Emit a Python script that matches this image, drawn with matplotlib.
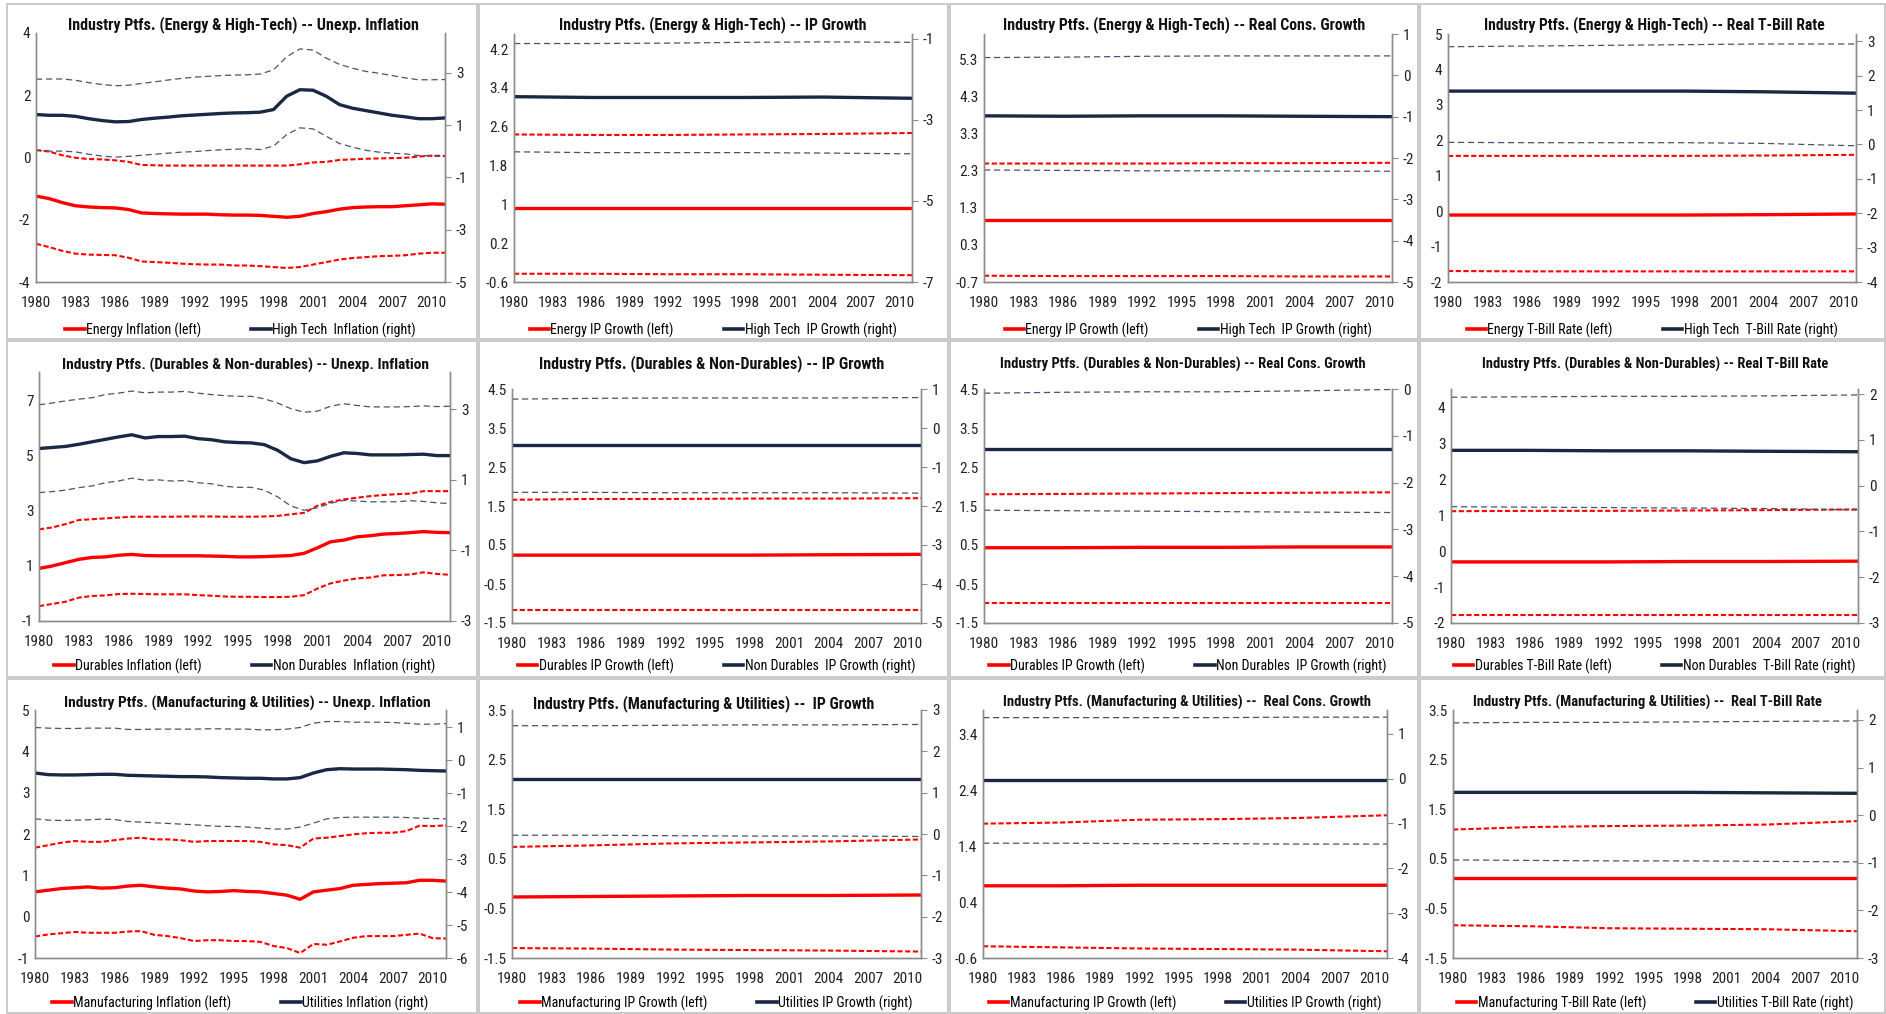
import numpy as np
import matplotlib.pyplot as plt
from matplotlib import font_manager
from matplotlib.lines import Line2D
from matplotlib.patches import Rectangle
from matplotlib.ticker import FuncFormatter

# pick a narrow sans face if there is one (the original is Calibri)
installed = {f.name for f in font_manager.fontManager.ttflist}
fam = 'DejaVu Sans'
for cand in ['Liberation Sans Narrow', 'Roboto Condensed', 'DejaVu Sans Condensed', 'Roboto']:
    if cand in installed:
        fam = cand
        break
plt.rcParams['font.family'] = [fam, 'DejaVu Sans']

W, H = 1886, 1014
RED = '#FF0000'
NAVY = '#1A2844'
NAVY_D = '#46556F'
GREY = '#8C8C8C'

years = np.arange(1980, 2012)
years_s = [1980, 1986, 1992, 1998, 2004, 2011]

# ---- Unexpected inflation (yearly readings) ----
energy_inf = [-1.24, -1.32, -1.45, -1.55, -1.59, -1.61, -1.62, -1.67, -1.78, -1.80,
              -1.81, -1.82, -1.82, -1.82, -1.84, -1.85, -1.85, -1.86, -1.89, -1.92,
              -1.89, -1.80, -1.74, -1.66, -1.61, -1.59, -1.58, -1.58, -1.55, -1.52, -1.49, -1.50]
energy_inf_hi = [0.24, 0.19, 0.07, -0.01, -0.05, -0.06, -0.09, -0.14, -0.24, -0.25,
                 -0.26, -0.26, -0.26, -0.26, -0.26, -0.26, -0.26, -0.26, -0.26, -0.26,
                 -0.22, -0.16, -0.14, -0.08, -0.06, -0.04, -0.03, -0.02, -0.01, 0.03, 0.06, 0.05]
energy_inf_lo = [-2.77, -2.88, -3.00, -3.09, -3.12, -3.13, -3.14, -3.22, -3.34, -3.36,
                 -3.38, -3.41, -3.43, -3.44, -3.44, -3.47, -3.47, -3.49, -3.52, -3.55,
                 -3.52, -3.44, -3.36, -3.28, -3.23, -3.20, -3.17, -3.16, -3.14, -3.09, -3.06, -3.06]
hitech_inf = [1.41, 1.38, 1.38, 1.34, 1.25, 1.18, 1.13, 1.14, 1.22, 1.27,
              1.31, 1.36, 1.39, 1.42, 1.45, 1.47, 1.48, 1.50, 1.60, 2.11,
              2.36, 2.34, 2.11, 1.79, 1.65, 1.56, 1.47, 1.38, 1.32, 1.25, 1.25, 1.28]
hitech_inf_hi = [2.76, 2.77, 2.77, 2.72, 2.63, 2.56, 2.51, 2.53, 2.60, 2.66,
                 2.73, 2.79, 2.84, 2.87, 2.90, 2.92, 2.93, 2.96, 3.12, 3.62,
                 3.92, 3.88, 3.57, 3.33, 3.18, 3.06, 2.99, 2.90, 2.81, 2.74, 2.74, 2.75]
hitech_inf_lo = [0.04, 0.01, 0.01, -0.02, -0.11, -0.18, -0.22, -0.19, -0.15, -0.11,
                 -0.07, -0.03, -0.01, 0.03, 0.06, 0.08, 0.10, 0.07, 0.20, 0.64,
                 0.90, 0.86, 0.58, 0.30, 0.16, 0.04, -0.03, -0.07, -0.10, -0.16, -0.17, -0.20]

dur_inf = [0.91, 1.00, 1.12, 1.24, 1.31, 1.33, 1.39, 1.42, 1.38, 1.37,
           1.37, 1.37, 1.37, 1.36, 1.35, 1.33, 1.33, 1.34, 1.36, 1.38,
           1.46, 1.66, 1.88, 1.94, 2.06, 2.10, 2.16, 2.18, 2.21, 2.25, 2.22, 2.21]
dur_inf_hi = [2.33, 2.40, 2.52, 2.67, 2.70, 2.73, 2.76, 2.79, 2.79, 2.79,
              2.79, 2.80, 2.80, 2.80, 2.79, 2.79, 2.79, 2.80, 2.82, 2.88,
              2.93, 3.19, 3.33, 3.42, 3.48, 3.54, 3.58, 3.61, 3.63, 3.72, 3.72, 3.72]
dur_inf_lo = [-0.46, -0.38, -0.30, -0.15, -0.09, -0.07, -0.02, -0.01, -0.02, -0.03,
              -0.03, -0.03, -0.06, -0.08, -0.11, -0.12, -0.12, -0.13, -0.13, -0.12,
              -0.06, 0.18, 0.37, 0.47, 0.55, 0.58, 0.66, 0.67, 0.69, 0.77, 0.71, 0.68]
nondur_inf = [1.89, 1.92, 1.95, 2.01, 2.08, 2.15, 2.22, 2.28, 2.19, 2.23,
              2.23, 2.24, 2.17, 2.14, 2.08, 2.06, 2.05, 2.00, 1.84, 1.60,
              1.49, 1.54, 1.67, 1.77, 1.75, 1.71, 1.71, 1.71, 1.72, 1.73, 1.69, 1.69]
nondur_inf_hi = [3.13, 3.18, 3.24, 3.29, 3.33, 3.42, 3.46, 3.52, 3.47, 3.49,
                 3.49, 3.51, 3.46, 3.42, 3.39, 3.37, 3.37, 3.30, 3.18, 3.02,
                 2.92, 2.95, 3.09, 3.16, 3.11, 3.07, 3.07, 3.07, 3.08, 3.10, 3.08, 3.09]
nondur_inf_lo = [0.64, 0.67, 0.71, 0.78, 0.83, 0.92, 0.97, 1.05, 0.99, 1.00,
                 0.97, 0.98, 0.92, 0.89, 0.82, 0.79, 0.79, 0.71, 0.52, 0.26,
                 0.14, 0.21, 0.34, 0.42, 0.40, 0.38, 0.38, 0.38, 0.41, 0.39, 0.35, 0.33]

manu_inf = [0.60, 0.64, 0.68, 0.70, 0.72, 0.69, 0.70, 0.74, 0.76, 0.72,
            0.69, 0.67, 0.62, 0.60, 0.61, 0.63, 0.61, 0.60, 0.56, 0.52,
            0.42, 0.60, 0.64, 0.68, 0.76, 0.78, 0.80, 0.81, 0.82, 0.88, 0.88, 0.86]
manu_inf_hi = [1.67, 1.73, 1.79, 1.83, 1.81, 1.81, 1.85, 1.89, 1.91, 1.87,
               1.87, 1.85, 1.81, 1.83, 1.83, 1.83, 1.83, 1.81, 1.75, 1.73,
               1.67, 1.89, 1.91, 1.95, 1.99, 2.02, 2.03, 2.03, 2.07, 2.20, 2.19, 2.21]
manu_inf_lo = [-0.48, -0.43, -0.40, -0.37, -0.39, -0.39, -0.39, -0.36, -0.35, -0.44,
               -0.47, -0.52, -0.59, -0.57, -0.57, -0.59, -0.59, -0.61, -0.71, -0.76,
               -0.88, -0.66, -0.68, -0.60, -0.51, -0.47, -0.47, -0.47, -0.44, -0.41, -0.52, -0.53]
util_inf = [-0.39, -0.44, -0.45, -0.45, -0.44, -0.43, -0.43, -0.46, -0.47, -0.48,
            -0.49, -0.50, -0.50, -0.51, -0.53, -0.54, -0.55, -0.55, -0.57, -0.57,
            -0.53, -0.39, -0.29, -0.26, -0.27, -0.27, -0.27, -0.28, -0.29, -0.31, -0.32, -0.33]
util_inf_hi = [0.99, 0.97, 0.96, 0.96, 0.97, 0.97, 0.97, 0.93, 0.93, 0.94,
               0.94, 0.94, 0.94, 0.95, 0.95, 0.94, 0.94, 0.92, 0.92, 0.94,
               0.99, 1.12, 1.17, 1.17, 1.15, 1.15, 1.15, 1.14, 1.12, 1.09, 1.09, 1.11]
util_inf_lo = [-1.78, -1.82, -1.83, -1.82, -1.81, -1.79, -1.80, -1.86, -1.88, -1.90,
               -1.92, -1.94, -1.96, -1.99, -2.01, -2.01, -2.03, -2.06, -2.09, -2.09,
               -2.03, -1.91, -1.78, -1.74, -1.73, -1.73, -1.73, -1.73, -1.74, -1.76, -1.77, -1.78]

# ---- IP growth / real consumption growth / real T-bill (readings at years_s) ----
energy_ip = [0.92, 0.92, 0.92, 0.92, 0.92, 0.92]
energy_ip_hi = [2.44, 2.43, 2.43, 2.44, 2.45, 2.47]
energy_ip_lo = [-0.43, -0.43, -0.44, -0.44, -0.45, -0.46]
hitech_ip = [-2.43, -2.45, -2.45, -2.45, -2.44, -2.47]
hitech_ip_hi = [-1.12, -1.12, -1.11, -1.09, -1.08, -1.09]
hitech_ip_lo = [-3.79, -3.81, -3.81, -3.81, -3.82, -3.84]

energy_rc = [0.97, 0.97, 0.97, 0.97, 0.97, 0.97]
energy_rc_hi = [2.50, 2.50, 2.50, 2.51, 2.51, 2.52]
energy_rc_lo = [-0.53, -0.54, -0.54, -0.54, -0.55, -0.55]
hitech_rc = [-0.98, -0.99, -0.98, -0.98, -0.99, -1.00]
hitech_rc_hi = [0.43, 0.44, 0.46, 0.47, 0.47, 0.47]
hitech_rc_lo = [-2.29, -2.30, -2.31, -2.31, -2.32, -2.32]

energy_tb = [-0.11, -0.11, -0.11, -0.11, -0.10, -0.08]
energy_tb_hi = [1.56, 1.56, 1.56, 1.56, 1.57, 1.59]
energy_tb_lo = [-1.69, -1.70, -1.70, -1.70, -1.70, -1.70]
hitech_tb = [1.55, 1.55, 1.55, 1.55, 1.53, 1.49]
hitech_tb_hi = [2.84, 2.86, 2.88, 2.90, 2.92, 2.92]
hitech_tb_lo = [0.06, 0.05, 0.05, 0.05, 0.03, -0.04]

dur_ip = [0.24, 0.24, 0.24, 0.24, 0.25, 0.26]
dur_ip_hi = [1.66, 1.68, 1.68, 1.69, 1.69, 1.70]
dur_ip_lo = [-1.16, -1.16, -1.16, -1.16, -1.16, -1.16]
nondur_ip = [-0.43, -0.43, -0.43, -0.43, -0.43, -0.43]
nondur_ip_hi = [0.74, 0.76, 0.77, 0.77, 0.77, 0.78]
nondur_ip_lo = [-1.65, -1.65, -1.66, -1.66, -1.66, -1.67]

dur_rc = [0.43, 0.43, 0.44, 0.44, 0.45, 0.45]
dur_rc_hi = [1.80, 1.81, 1.82, 1.83, 1.84, 1.85]
dur_rc_lo = [-0.99, -0.99, -0.99, -0.99, -0.99, -0.99]
nondur_rc = [-1.29, -1.29, -1.29, -1.29, -1.29, -1.29]
nondur_rc_hi = [-0.09, -0.07, -0.06, -0.06, -0.04, -0.01]
nondur_rc_lo = [-2.59, -2.60, -2.61, -2.62, -2.63, -2.64]

dur_tb = [-0.30, -0.30, -0.30, -0.29, -0.29, -0.28]
dur_tb_hi = [1.11, 1.12, 1.12, 1.13, 1.14, 1.16]
dur_tb_lo = [-1.79, -1.79, -1.79, -1.79, -1.79, -1.79]
nondur_tb = [0.77, 0.77, 0.76, 0.76, 0.75, 0.74]
nondur_tb_hi = [1.93, 1.94, 1.95, 1.95, 1.96, 1.98]
nondur_tb_lo = [-0.46, -0.47, -0.48, -0.49, -0.50, -0.53]

manu_ip = [-0.27, -0.26, -0.25, -0.24, -0.24, -0.23]
manu_ip_hi = [0.74, 0.77, 0.81, 0.83, 0.85, 0.89]
manu_ip_lo = [-1.30, -1.31, -1.33, -1.34, -1.35, -1.37]
util_ip = [1.34, 1.34, 1.34, 1.34, 1.34, 1.34]
util_ip_hi = [2.62, 2.62, 2.63, 2.64, 2.64, 2.65]
util_ip_lo = [-0.03, -0.03, -0.04, -0.05, -0.05, -0.06]

manu_rc = [0.69, 0.69, 0.70, 0.70, 0.70, 0.70]
manu_rc_hi = [1.80, 1.82, 1.87, 1.88, 1.90, 1.95]
manu_rc_lo = [-0.39, -0.41, -0.43, -0.44, -0.45, -0.48]
util_rc = [-0.02, -0.02, -0.02, -0.02, -0.02, -0.02]
util_rc_hi = [1.36, 1.36, 1.36, 1.36, 1.37, 1.37]
util_rc_lo = [-1.44, -1.44, -1.45, -1.45, -1.46, -1.46]

manu_tb = [0.11, 0.11, 0.11, 0.11, 0.11, 0.11]
manu_tb_hi = [1.09, 1.14, 1.16, 1.17, 1.19, 1.26]
manu_tb_lo = [-0.84, -0.86, -0.90, -0.91, -0.92, -0.96]
util_tb = [0.48, 0.48, 0.48, 0.48, 0.47, 0.46]
util_tb_hi = [1.94, 1.95, 1.95, 1.96, 1.97, 1.98]
util_tb_lo = [-0.94, -0.95, -0.96, -0.96, -0.97, -0.98]

xticks = list(range(1980, 2011, 3))

t1 = 'Industry Ptfs. (Energy & High-Tech) -- '
t2 = 'Industry Ptfs. (Durables & Non-Durables) -- '
t3 = 'Industry Ptfs. (Manufacturing & Utilities) --  '

panels = [
    # row 1
    dict(box=(7, 4, 477, 339), rect=(36, 33, 445, 282), x=years,
         red=(energy_inf, energy_inf_hi, energy_inf_lo), navy=(hitech_inf, hitech_inf_hi, hitech_inf_lo),
         ly=(-4, 4), lt=[-4, -2, 0, 2, 4], ry=(-5, 4.53), rt=[-5, -3, -1, 1, 3],
         title=t1 + 'Unexp. Inflation', tc=(243, 25), tw=352,
         leg=('Energy Inflation (left)', 'High Tech  Inflation (right)'), legy=330),
    dict(box=(479, 4, 948, 339), rect=(514, 34, 912, 282), x=years_s,
         red=(energy_ip, energy_ip_hi, energy_ip_lo), navy=(hitech_ip, hitech_ip_hi, hitech_ip_lo),
         ly=(-0.6, 4.51), lt=[-0.6, 0.2, 1, 1.8, 2.6, 3.4, 4.2], ry=(-7, -0.885), rt=[-7, -5, -3, -1],
         title=t1 + 'IP Growth', tc=(713, 25), tw=309,
         leg=('Energy IP Growth (left)', 'High Tech  IP Growth (right)'), legy=330),
    dict(box=(950, 4, 1418, 339), rect=(984, 34, 1392, 282), x=years_s,
         red=(energy_rc, energy_rc_hi, energy_rc_lo), navy=(hitech_rc, hitech_rc_hi, hitech_rc_lo),
         ly=(-0.7, 6.0), lt=[-0.7, 0.3, 1.3, 2.3, 3.3, 4.3, 5.3], ry=(-5, 1), rt=[-5, -4, -3, -2, -1, 0, 1],
         title=t1 + 'Real Cons. Growth', tc=(1184, 25), tw=365,
         leg=('Energy IP Growth (left)', 'High Tech  IP Growth (right)'), legy=330),
    dict(box=(1420, 4, 1885, 339), rect=(1448, 34, 1856, 282), x=years_s,
         red=(energy_tb, energy_tb_hi, energy_tb_lo), navy=(hitech_tb, hitech_tb_hi, hitech_tb_lo),
         ly=(-2, 5), lt=[-2, -1, 0, 1, 2, 3, 4, 5], ry=(-4, 3.21), rt=[-4, -3, -2, -1, 0, 1, 2, 3],
         title=t1 + 'Real T-Bill Rate', tc=(1654, 25), tw=342,
         leg=('Energy T-Bill Rate (left)', 'High Tech  T-Bill Rate (right)'), legy=330),
    # row 2
    dict(box=(7, 341, 477, 677), rect=(39, 372, 450, 621), x=years,
         red=(dur_inf, dur_inf_hi, dur_inf_lo), navy=(nondur_inf, nondur_inf_hi, nondur_inf_lo),
         ly=(-1, 8.05), lt=[-1, 1, 3, 5, 7], ry=(-3, 4.06), rt=[-3, -1, 1, 3],
         title='Industry Ptfs. (Durables & Non-durables) -- Unexp. Inflation', tc=(246, 365), tw=367,
         leg=('Durables Inflation (left)', 'Non Durables  Inflation (right)'), legy=666),
    dict(box=(479, 341, 948, 677), rect=(512, 389, 921, 623), x=years_s,
         red=(dur_ip, dur_ip_hi, dur_ip_lo), navy=(nondur_ip, nondur_ip_hi, nondur_ip_lo),
         ly=(-1.5, 4.5), lt=[-1.5, -0.5, 0.5, 1.5, 2.5, 3.5, 4.5], ry=(-5, 1), rt=[-5, -4, -3, -2, -1, 0, 1],
         title=t2 + 'IP Growth', tc=(712, 364), tw=345,
         leg=('Durables IP Growth (left)', 'Non Durables  IP Growth (right)'), legy=666),
    dict(box=(950, 341, 1418, 677), rect=(984, 389, 1392, 623), x=years_s,
         red=(dur_rc, dur_rc_hi, dur_rc_lo), navy=(nondur_rc, nondur_rc_hi, nondur_rc_lo),
         ly=(-1.5, 4.5), lt=[-1.5, -0.5, 0.5, 1.5, 2.5, 3.5, 4.5], ry=(-5, 0), rt=[-5, -4, -3, -2, -1, 0],
         title=t2 + 'Real Cons. Growth', tc=(1183, 364), tw=367,
         leg=('Durables IP Growth (left)', 'Non Durables  IP Growth (right)'), legy=666),
    dict(box=(1420, 341, 1885, 677), rect=(1451, 389, 1858, 623), x=years_s,
         red=(dur_tb, dur_tb_hi, dur_tb_lo), navy=(nondur_tb, nondur_tb_hi, nondur_tb_lo),
         ly=(-2, 4.51), lt=[-2, -1, 0, 1, 2, 3, 4], ry=(-3, 2.11), rt=[-3, -2, -1, 0, 1, 2],
         title=t2 + 'Real T-Bill Rate', tc=(1655, 364), tw=346,
         leg=('Durables T-Bill Rate (left)', 'Non Durables  T-Bill Rate (right)'), legy=666),
    # row 3
    dict(box=(7, 679, 477, 1013), rect=(35, 710, 446, 958), x=years,
         red=(manu_inf, manu_inf_hi, manu_inf_lo), navy=(util_inf, util_inf_hi, util_inf_lo),
         ly=(-1, 5), lt=[-1, 0, 1, 2, 3, 4, 5], ry=(-6, 1.52), rt=[-6, -5, -4, -3, -2, -1, 0, 1],
         title='Industry Ptfs. (Manufacturing & Utilities) -- Unexp. Inflation', tc=(247, 703), tw=368,
         leg=('Manufacturing Inflation (left)', 'Utilities Inflation (right)'), legy=1003),
    dict(box=(479, 679, 948, 1013), rect=(512, 710, 921, 958), x=years_s,
         red=(manu_ip, manu_ip_hi, manu_ip_lo), navy=(util_ip, util_ip_hi, util_ip_lo),
         ly=(-1.5, 3.5), lt=[-1.5, -0.5, 0.5, 1.5, 2.5, 3.5], ry=(-3, 3), rt=[-3, -2, -1, 0, 1, 2, 3],
         title=t3 + 'IP Growth', tc=(704, 704), tw=342,
         leg=('Manufacturing IP Growth (left)', 'Utilities IP Growth (right)'), legy=1003),
    dict(box=(950, 679, 1418, 1013), rect=(983, 710, 1387, 958), x=years_s,
         red=(manu_rc, manu_rc_hi, manu_rc_lo), navy=(util_rc, util_rc_hi, util_rc_lo),
         ly=(-0.6, 3.83), lt=[-0.6, 0.4, 1.4, 2.4, 3.4], ry=(-4, 1.53), rt=[-4, -3, -2, -1, 0, 1],
         title=t3 + 'Real Cons. Growth', tc=(1187, 702), tw=368,
         leg=('Manufacturing IP Growth (left)', 'Utilities IP Growth (right)'), legy=1003),
    dict(box=(1420, 679, 1885, 1013), rect=(1453, 710, 1857, 958), x=years_s,
         red=(manu_tb, manu_tb_hi, manu_tb_lo), navy=(util_tb, util_tb_hi, util_tb_lo),
         ly=(-1.5, 3.5), lt=[-1.5, -0.5, 0.5, 1.5, 2.5, 3.5], ry=(-3, 2.21), rt=[-3, -2, -1, 0, 1, 2],
         title=t3 + 'Real T-Bill Rate', tc=(1647, 702), tw=348,
         leg=('Manufacturing T-Bill Rate (left)', 'Utilities T-Bill Rate (right)'), legy=1003),
]

fig = plt.figure(figsize=(W / 100, H / 100), dpi=100)
fmt = FuncFormatter(lambda v, pos: '{:g}'.format(round(v, 2)))
titles = []

for p in panels:
    bx0, by0, bx1, by1 = p['box']
    fig.patches.append(Rectangle((bx0 / W, 1 - by1 / H), (bx1 - bx0) / W, (by1 - by0) / H,
                                 transform=fig.transFigure, fill=False, ec='#C6C6C6', lw=1.3))
    l, t, r, b = p['rect']
    ax = fig.add_axes([l / W, 1 - b / H, (r - l) / W, (b - t) / H])
    ax2 = ax.twinx()

    mid, hi, lo = p['red']
    ax.plot(p['x'], hi, color=RED, lw=1.5, dashes=(2.5, 1.2))
    ax.plot(p['x'], lo, color=RED, lw=1.5, dashes=(2.5, 1.2))
    ax.plot(p['x'], mid, color=RED, lw=2.4)
    mid, hi, lo = p['navy']
    ax2.plot(p['x'], hi, color=NAVY_D, lw=0.9, dashes=(5, 3))
    ax2.plot(p['x'], lo, color=NAVY_D, lw=0.9, dashes=(5, 3))
    ax2.plot(p['x'], mid, color=NAVY, lw=2.4)

    ax.set_xlim(1980, 2011)
    ax.set_ylim(*p['ly'])
    ax.set_yticks(p['lt'])
    ax2.set_ylim(*p['ry'])
    ax2.set_yticks(p['rt'])
    ax.yaxis.set_major_formatter(fmt)
    ax2.yaxis.set_major_formatter(fmt)
    ax.set_xticks(xticks)

    for a in (ax, ax2):
        a.set_facecolor('none')
        a.spines['top'].set_visible(False)
        for s in ('left', 'right', 'bottom'):
            a.spines[s].set_color(GREY)
            a.spines[s].set_linewidth(1.0)
    ax.tick_params(axis='x', length=0, pad=10, labelsize=11, colors='#222222')
    ax.tick_params(axis='y', length=0, pad=4, labelsize=11, colors='#222222')
    ax2.tick_params(axis='y', length=4, width=0.8, color=GREY, pad=4, labelsize=11, labelcolor='#222222')

    tx, ty = p['tc']
    titles.append((fig.text(tx / W, 1 - ty / H, p['title'], ha='center', va='center',
                            fontsize=12, fontweight='bold', color='#111111'), p['tw']))

    handles = [Line2D([], [], color=RED, lw=2.6), Line2D([], [], color=NAVY, lw=2.6)]
    fig.legend(handles, p['leg'], loc='center', ncol=2, frameon=False,
               bbox_to_anchor=((l + r) / 2 / W, 1 - p['legy'] / H),
               fontsize=10, handlelength=1.4, handletextpad=0.1, columnspacing=3.6)

# scale titles to the width they have in the original
renderer = fig.canvas.get_renderer()
for txt, wpx in titles:
    w = txt.get_window_extent(renderer).width
    txt.set_fontsize(txt.get_fontsize() * wpx / w)

fig.savefig('out.png', dpi=100)
